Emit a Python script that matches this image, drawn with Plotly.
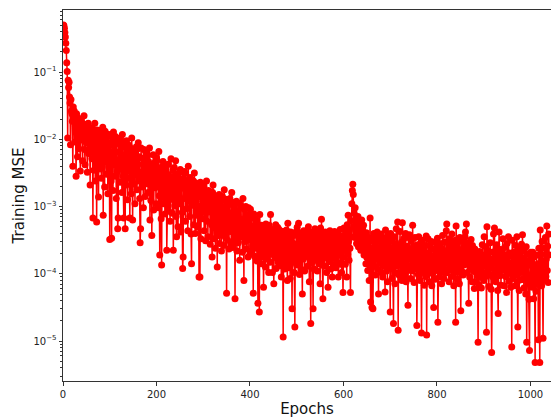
import plotly.graph_objects as go

# Training MSE per epoch, stored as round(100*log10(MSE)).
log_mse_001_200 = [
    -30,-31,-35,-41,-48,-57,-68,-86,-99,-198,-112,-123,-115,-137,-146,-208,-141,-158,-162,-173,
    -240,-152,-166,-158,-204,-171,-183,-255,-162,-178,-226,-168,-186,-214,-175,-193,-247,-172,-188,-201,
    -176,-232,-181,-194,-165,-215,-238,-186,-178,-205,-192,-249,-184,-176,-221,-197,-182,-268,-190,-208,
    -184,-229,-195,-317,-188,-246,-203,-176,-262,-193,-211,-323,-186,-237,-199,-286,-190,-218,-244,-187,
    -202,-258,-191,-226,-182,-313,-207,-196,-271,-188,-233,-199,-252,-192,-214,-281,-195,-241,-206,-349,
    -193,-224,-262,-347,-197,-209,-276,-189,-238,-201,-255,-196,-219,-288,-203,-248,-333,-317,-199,-231,
    -207,-264,-198,-243,-212,-279,-193,-226,-255,-317,-204,-236,-333,-211,-268,-202,-247,-290,-214,-222,
    -209,-258,-317,-213,-238,-281,-198,-249,-320,-215,-230,-267,-224,-296,-218,-244,-211,-275,-253,-214,
    -205,-262,-226,-288,-354,-333,-213,-249,-271,-228,-237,-302,-215,-258,-236,-285,-219,-244,-266,-232,
    -224,-279,-233,-256,-213,-320,-247,-291,-238,-343,-238,-263,-223,-305,-251,-235,-272,-240,-296,-227,
]
log_mse_201_400 = [
    -231,-268,-245,-302,-218,-284,-372,-255,-246,-318,-387,-241,-273,-233,-296,-250,-238,-311,-262,-244,
    -240,-365,-283,-252,-237,-307,-264,-256,-322,-271,-229,-289,-256,-310,-246,-365,-278,-242,-299,-259,
    -232,-315,-345,-262,-255,-330,-281,-250,-296,-267,-245,-338,-273,-262,-309,-392,-375,-258,-288,-248,
    -251,-322,-276,-266,-303,-268,-336,-240,-290,-262,-315,-257,-279,-341,-385,-260,-298,-271,-262,-327,
    -250,-292,-340,-265,-313,-278,-274,-331,-286,-267,-405,-300,-405,-264,-348,-283,-269,-318,-292,-276,
    -270,-336,-289,-284,-351,-296,-262,-322,-280,-345,-276,-308,-291,-288,-356,-284,-278,-327,-375,-279,
    -268,-314,-348,-284,-299,-362,-290,-331,-290,-390,-286,-343,-303,-282,-355,-295,-293,-320,-366,-288,
    -285,-339,-301,-358,-275,-318,-345,-289,-306,-429,-293,-350,-296,-325,-363,-297,-288,-337,-310,-356,
    -279,-332,-361,-294,-318,-349,-298,-437,-305,-341,-292,-366,-312,-307,-354,-326,-295,-380,-336,-299,
    -301,-345,-322,-368,-288,-334,-410,-304,-352,-317,-300,-363,-338,-312,-327,-375,-302,-349,-315,-371,
]
log_mse_401_600 = [
    -304,-342,-366,-317,-329,-359,-429,-311,-348,-374,-318,-336,-362,-320,-381,-345,-444,-327,-357,-457,
    -312,-366,-340,-385,-328,-352,-375,-334,-420,-347,-333,-369,-390,-326,-358,-341,-378,-330,-362,-398,
    -328,-354,-383,-312,-345,-371,-336,-398,-334,-360,-415,-339,-350,-376,-327,-392,-344,-365,-331,-382,
    -333,-371,-349,-388,-336,-360,-405,-342,-378,-352,-494,-337,-366,-393,-345,-357,-384,-335,-372,-410,
    -325,-368,-391,-346,-359,-407,-338,-376,-352,-452,-340,-383,-364,-343,-398,-479,-356,-372,-337,-387,
    -331,-362,-385,-325,-353,-401,-342,-370,-393,-339,-358,-430,-347,-378,-336,-364,-396,-350,-374,-344,
    -336,-367,-389,-349,-330,-375,-412,-343,-361,-474,-352,-384,-338,-369,-452,-347,-393,-358,-333,-380,
    -335,-372,-351,-396,-339,-366,-385,-344,-358,-415,-332,-378,-319,-362,-347,-437,-365,-340,-389,-354,
    -338,-376,-352,-398,-341,-367,-420,-345,-382,-358,-336,-371,-393,-349,-362,-405,-343,-377,-355,-387,
    -337,-369,-348,-391,-353,-382,-339,-364,-405,-346,-372,-357,-334,-386,-361,-398,-350,-376,-428,-343,
]
log_mse_601_800 = [
    -332,-365,-348,-386,-339,-358,-405,-327,-371,-313,-352,-380,-335,-362,-428,-321,-345,-296,-276,-267,
    -282,-330,-310,-346,-302,-338,-318,-355,-325,-342,-315,-360,-334,-322,-348,-328,-365,-337,-320,-352,
    -333,-358,-328,-372,-341,-363,-350,-385,-339,-376,-357,-395,-346,-368,-410,-352,-317,-442,-362,-381,
    -450,-348,-452,-371,-340,-389,-356,-402,-343,-378,-361,-338,-393,-367,-430,-352,-384,-345,-372,-398,
    -341,-379,-362,-405,-347,-388,-370,-352,-427,-335,-383,-396,-358,-412,-344,-375,-391,-363,-349,-457,
    -340,-386,-362,-407,-352,-392,-474,-345,-378,-415,-356,-399,-333,-370,-388,-323,-484,-358,-402,-365,
    -337,-381,-398,-353,-410,-324,-372,-391,-348,-403,-366,-385,-340,-412,-359,-377,-395,-447,-346,-370,
    -342,-389,-365,-407,-351,-378,-396,-328,-384,-359,-413,-371,-346,-393,-380,-362,-477,-388,-357,-401,
    -345,-383,-366,-410,-355,-392,-488,-373,-350,-398,-379,-362,-417,-386,-358,-404,-344,-491,-375,-396,
    -348,-390,-369,-412,-357,-382,-399,-352,-418,-374,-391,-363,-450,-385,-353,-408,-378,-367,-395,-360,
]
log_mse_801_1040 = [
    -347,-472,-388,-369,-405,-355,-381,-398,-362,-415,-376,-343,-392,-370,-407,-353,-385,-366,-399,-336,
    -326,-373,-394,-352,-380,-412,-348,-367,-391,-359,-404,-341,-377,-395,-356,-418,-369,-384,-350,-472,
    -329,-376,-362,-408,-353,-389,-371,-415,-346,-382,-455,-365,-396,-351,-378,-402,-360,-387,-372,-345,
    -338,-381,-326,-366,-398,-354,-379,-444,-362,-405,-371,-392,-349,-384,-412,-358,-376,-395,-366,-422,
    -363,-397,-378,-412,-371,-386,-402,-502,-382,-417,-367,-391,-405,-375,-421,-385,-357,-398,-380,-410,
    -345,-388,-372,-404,-360,-487,-330,-381,-396,-366,-419,-377,-402,-354,-391,-423,-517,-385,-368,-405,
    -341,-384,-332,-398,-366,-412,-379,-357,-392,-425,-459,-371,-338,-388,-403,-364,-417,-380,-395,-369,
    -348,-393,-372,-418,-361,-387,-404,-376,-428,-355,-396,-383,-345,-411,-369,-399,-386,-420,-374,-509,
    -350,-389,-407,-368,-395,-376,-418,-358,-402,-384,-345,-412,-479,-390,-371,-425,-363,-398,-381,-409,
    -356,-394,-342,-408,-377,-421,-366,-399,-385,-430,-360,-502,-388,-415,-371,-402,-438,-514,-379,-412,
    -368,-405,-384,-420,-368,-396,-437,-375,-411,-532,-389,-426,-372,-400,-416,-385,-498,-362,-409,-532,
    -335,-392,-371,-418,-352,-399,-496,-383,-410,-362,-387,-346,-404,-378,-329,-395,-359,-413,-341,-372,
]

x_ticks = [0, 200, 400, 600, 800, 1000]
y_ticks = [1e-1, 1e-2, 1e-3, 1e-4, 1e-5]
y_tick_labels = ["10<sup>\u22121</sup>", "10<sup>\u22122</sup>", "10<sup>\u22123</sup>",
                 "10<sup>\u22124</sup>", "10<sup>\u22125</sup>"]

log_mse = log_mse_001_200 + log_mse_201_400 + log_mse_401_600 + log_mse_601_800 + log_mse_801_1040
mse = [10 ** (v / 100.0) for v in log_mse]
epochs = list(range(1, len(mse) + 1))

minor_vals = []
for p in range(-6, 1):
    for k in range(2, 10):
        minor_vals.append(k * 10.0 ** p)

fig = go.Figure()
fig.add_trace(go.Scatter(
    x=epochs, y=mse, mode="lines+markers",
    line=dict(color="#ff0000", width=1.5),
    marker=dict(color="#ff0000", size=7, line=dict(width=0)),
    showlegend=False,
))

axis_font = dict(family="DejaVu Sans", size=10, color="#222222")
fig.update_layout(
    width=551, height=418,
    margin=dict(l=63, r=0, t=10, b=37),
    paper_bgcolor="white", plot_bgcolor="white",
    font=dict(family="DejaVu Sans", color="#222222"),
    xaxis=dict(
        range=[0, 1044], tickvals=x_ticks, ticktext=[str(v) for v in x_ticks],
        showgrid=False, zeroline=False, showline=True, linecolor="#333333", linewidth=1,
        mirror=True, ticks="outside", ticklen=3.5, tickcolor="#333333", tickfont=axis_font,
        title=dict(text="Epochs", font=dict(family="DejaVu Sans", size=15, color="#111111"), standoff=2),
        automargin=False,
    ),
    yaxis=dict(
        type="log", range=[-5.595, -0.077], tickvals=y_ticks, ticktext=y_tick_labels,
        showgrid=False, zeroline=False, showline=True, linecolor="#333333", linewidth=1,
        ticks="outside", ticklen=3.5, tickcolor="#333333", tickfont=axis_font,
        minor=dict(tickvals=minor_vals, ticks="outside", ticklen=2, tickcolor="#333333"),
        title=dict(text="Training MSE", font=dict(family="DejaVu Sans", size=15, color="#111111"), standoff=5),
        automargin=False,
    ),
)

fig.write_html("out.html")
